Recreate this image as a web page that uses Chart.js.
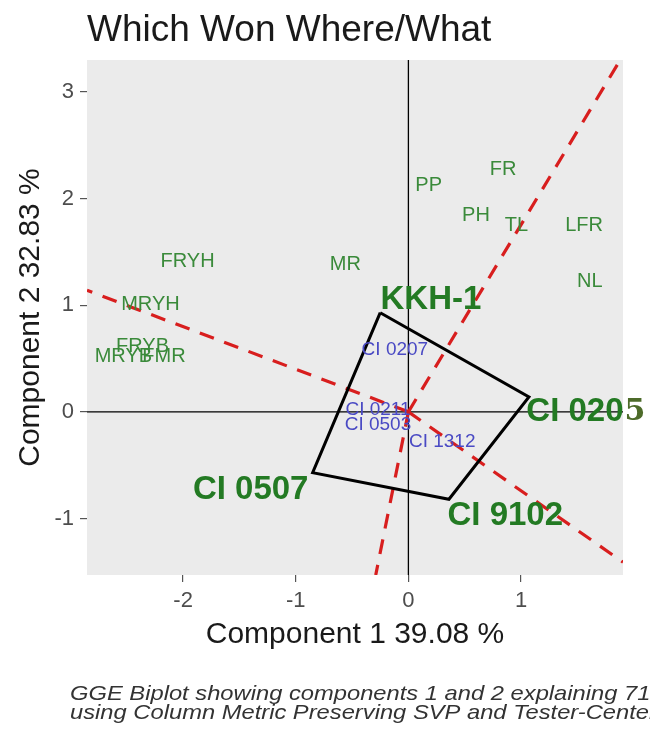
<!DOCTYPE html>
<html lang="en">
<head>
  <meta charset="UTF-8">
  <title>Which Won Where/What</title>
  <script src="https://cdn.jsdelivr.net/npm/chart.js"></script>
  <style>
    html, body { margin: 0; padding: 0; background: #fff; }
    #wrap { width: 650px; height: 732px; }
  </style>
</head>
<body>
  <div id="wrap">
    <canvas id="biplot" width="650" height="732"></canvas>
  </div>

  <script>
    // Axis ranges and ticks
    const xRange = [-2.853, 1.905];
    const yRange = [-1.53, 3.30];
    const xTicks = [-2, -1, 0, 1];
    const yTicks = [-1, 0, 1, 2, 3];

    // Convex hull (which-won-where polygon) vertices, closed
    const hullX = [-0.25, 1.07, 0.36, -0.85, -0.25];
    const hullY = [0.93, 0.14, -0.82, -0.57, 0.93];

    // Rays from the origin, perpendicular to the hull edges
    const rayEndX = [1.88, -0.29, -2.853, 1.905];
    const rayEndY = [3.30, -1.53, 1.14, -1.41];

    // Environments (testers)
    const envNames = ['PP', 'FR', 'PH', 'TL', 'LFR', 'NL', 'MR', 'FRYH', 'MRYH', 'FRYB', 'MRYB', 'FMR'];
    const envX = [0.18, 0.84, 0.60, 0.96, 1.56, 1.61, -0.56, -1.96, -2.29, -2.36, -2.53, -2.17];
    const envY = [2.12, 2.27, 1.84, 1.75, 1.75, 1.22, 1.38, 1.41, 1.01, 0.61, 0.52, 0.52];

    // Genotypes inside the hull
    const genoNames = ['CI 0207', 'CI 0211', 'CI 0503', 'CI 1312'];
    const genoX = [-0.12, -0.27, -0.27, 0.30];
    const genoY = [0.58, 0.02, -0.12, -0.28];

    // Vertex genotypes (winners)
    const winNames = ['KKH-1', 'CI 0205', 'CI 9102', 'CI 0507'];
    const winX = [0.20, 1.56, 0.86, -1.40];
    const winY = [1.05, 0.00, -0.98, -0.73];

    const pts = (xs, ys) => xs.map((x, i) => ({ x, y: ys[i] }));

    const rayDatasets = rayEndX.map((ex, i) => ({
      data: [{ x: 0, y: 0 }, { x: ex, y: rayEndY[i] }],
      showLine: true,
      borderColor: '#d81e1e',
      borderWidth: 3.2,
      borderDash: [15, 11],
      pointRadius: 0,
      order: 2
    }));

    const panelBg = {
      id: 'panelBg',
      beforeDraw(chart) {
        const { ctx, chartArea: a } = chart;
        ctx.save();
        ctx.fillStyle = '#ebebeb';
        ctx.fillRect(a.left, a.top, a.right - a.left, a.bottom - a.top);
        ctx.restore();
      }
    };

    function drawLabels(ctx, sx, sy, names, xs, ys, font, color) {
      ctx.font = font;
      ctx.fillStyle = color;
      ctx.textAlign = 'center';
      ctx.textBaseline = 'middle';
      names.forEach((n, i) => {
        ctx.fillText(n, sx.getPixelForValue(xs[i]), sy.getPixelForValue(ys[i]));
      });
    }

    const SANS = '"Liberation Sans", Arial, sans-serif';

    const textLayer = {
      id: 'textLayer',
      afterDatasetsDraw(chart) {
        const { ctx, chartArea: a } = chart;
        const sx = chart.scales.x, sy = chart.scales.y;
        ctx.save();
        drawLabels(ctx, sx, sy, envNames, envX, envY, '20px ' + SANS, '#3a8a3a');
        drawLabels(ctx, sx, sy, genoNames, genoX, genoY, '19px ' + SANS, '#4a4ac4');

        // winners: bold green; the last glyph of CI 0205 sits outside the panel in a serif face
        const winFont = 'bold 33px ' + SANS;
        ctx.font = winFont;
        ctx.fillStyle = '#237a23';
        ctx.textBaseline = 'middle';
        winNames.forEach((n, i) => {
          const px = sx.getPixelForValue(winX[i]);
          const py = sy.getPixelForValue(winY[i]);
          if (n === 'CI 0205') {
            const w = ctx.measureText(n).width;
            const head = n.slice(0, -1);
            ctx.textAlign = 'left';
            ctx.fillText(head, px - w / 2, py);
            const hw = ctx.measureText(head).width;
            ctx.font = 'bold 30px "DejaVu Serif", serif';
            ctx.fillStyle = '#4d6b2a';
            ctx.fillText(n.slice(-1), px - w / 2 + hw + 1, py);
            ctx.font = winFont;
            ctx.fillStyle = '#237a23';
          } else {
            ctx.textAlign = 'center';
            ctx.fillText(n, px, py);
          }
        });

        // title, axis titles, caption
        ctx.fillStyle = '#1a1a1a';
        ctx.textAlign = 'left';
        ctx.textBaseline = 'alphabetic';
        ctx.font = '37px ' + SANS;
        ctx.fillText('Which Won Where/What', 87, 41);

        ctx.font = '30px ' + SANS;
        ctx.textAlign = 'center';
        ctx.textBaseline = 'middle';
        ctx.fillText('Component 1 39.08 %', (a.left + a.right) / 2, 635);
        ctx.save();
        ctx.translate(31, (a.top + a.bottom) / 2);
        ctx.rotate(-Math.PI / 2);
        ctx.fillText('Component 2 32.83 %', 0, 0);
        ctx.restore();

        ctx.save();
        ctx.translate(70, 0);
        ctx.scale(1.13, 1);
        ctx.font = 'italic 21px ' + SANS;
        ctx.fillStyle = '#333';
        ctx.textAlign = 'left';
        ctx.fillText('GGE Biplot showing components 1 and 2 explaining 71.91% of the total variability', 0, 694);
        ctx.fillText('using Column Metric Preserving SVP and Tester-Centered G+GE', 0, 713);
        ctx.restore();
        ctx.restore();
      }
    };

    const axisStyle = (ticks, range, fit) => ({
      type: 'linear',
      min: range[0],
      max: range[1],
      afterBuildTicks: s => { s.ticks = ticks.map(v => ({ value: v })); },
      afterFit: fit,
      border: { display: false },
      grid: { drawOnChartArea: false, drawTicks: true, tickLength: 7, color: '#555', lineWidth: 1.2 },
      ticks: {
        color: '#4d4d4d',
        font: { family: SANS, size: 22 },
        maxRotation: 0,
        autoSkip: false
      }
    });

    const xAxis = axisStyle(xTicks, xRange, s => { s.height = 80; });
    xAxis.ticks.padding = 6;
    const yAxis = axisStyle(yTicks, yRange, s => { s.width = 87; });
    yAxis.ticks.padding = 6;

    new Chart(document.getElementById('biplot'), {
      type: 'scatter',
      data: {
        datasets: [
          {
            data: pts(hullX, hullY),
            showLine: true,
            borderColor: '#000',
            borderWidth: 3,
            pointRadius: 0,
            tension: 0,
            order: 1
          },
          ...rayDatasets,
          {
            data: [{ x: 0, y: yRange[0] }, { x: 0, y: yRange[1] }],
            showLine: true, borderColor: '#000', borderWidth: 1.3, pointRadius: 0, order: 3
          },
          {
            data: [{ x: xRange[0], y: 0 }, { x: xRange[1], y: 0 }],
            showLine: true, borderColor: '#000', borderWidth: 1.3, pointRadius: 0, order: 3
          }
        ]
      },
      options: {
        responsive: false,
        animation: false,
        devicePixelRatio: 1,
        layout: { padding: { top: 60, right: 27, bottom: 77, left: 0 } },
        plugins: { legend: { display: false }, tooltip: { enabled: false }, title: { display: false } },
        scales: { x: xAxis, y: yAxis }
      },
      plugins: [panelBg, textLayer]
    });
  </script>
</body>
</html>
